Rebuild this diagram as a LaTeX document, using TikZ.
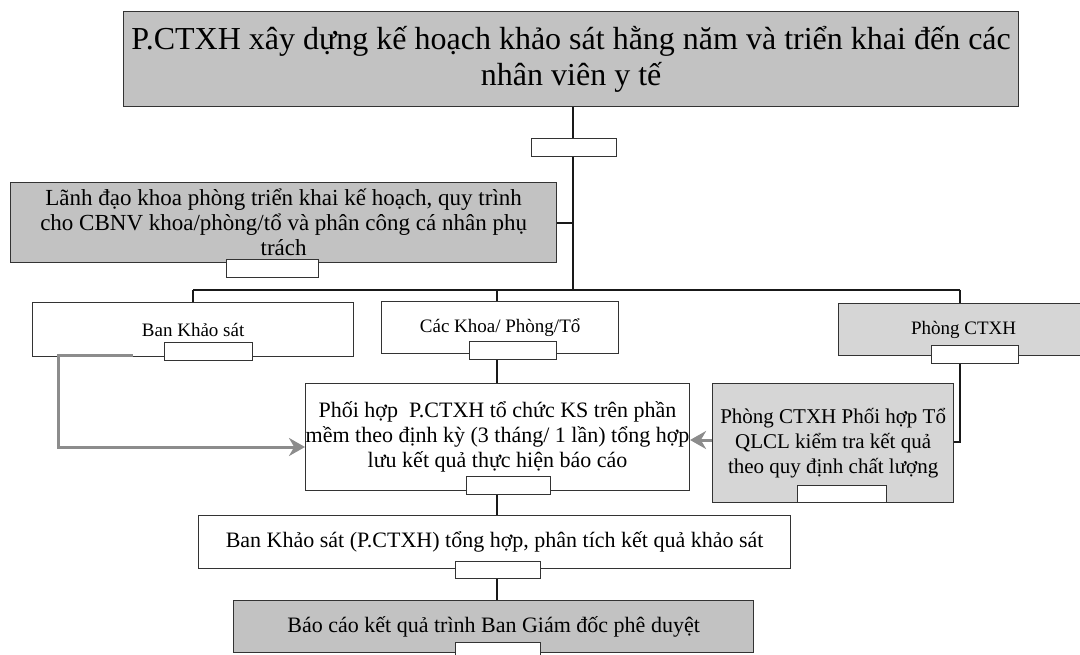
\documentclass[tikz,border=0pt]{standalone}
\usepackage{fontspec}
\setmainfont{Liberation Serif}
\usetikzlibrary{arrows.meta}
\pgfdeclarelayer{bg}
\pgfsetlayers{bg,main}
\begin{document}
\begin{tikzpicture}[x=1pt,y=-1pt,
  box/.style={draw=black!80, line width=1.3pt, anchor=north west, inner sep=0pt, align=center},
  graybox/.style={box, fill=black!24},
  lightbox/.style={box, fill=black!16},
  whitebox/.style={box, fill=white},
  tag/.style={draw=black!80, line width=1pt, fill=white, anchor=north west, inner sep=0pt},
  link/.style={line width=2pt, draw=black!90},
  grayarrow/.style={line width=3pt, draw=black!45, -{Stealth[length=16pt,width=18pt]}},
  big/.style={font=\fontsize{32}{36}\selectfont},
  mid/.style={font=\fontsize{22}{25}\selectfont},
  small/.style={font=\fontsize{19}{22}\selectfont}
]
\useasboundingbox (0,0) rectangle (1080,655);

% boxes
\node[graybox, big, minimum width=895pt, minimum height=95pt] (top) at (123,11)
  {P.CTXH xây dựng kế hoạch khảo sát hằng năm và triển khai đến các\\nhân viên y tế};
\node[tag, minimum width=85pt, minimum height=18pt] (t0) at (531,138) {};

\node[graybox, font=\fontsize{23}{25}\selectfont, minimum width=546pt, minimum height=80pt] (lead) at (10,182)
  {Lãnh đạo khoa phòng triển khai kế hoạch, quy trình\\cho CBNV khoa/phòng/tổ và phân công cá nhân phụ\\trách};
\node[tag, minimum width=92pt, minimum height=18pt] (t1) at (226,259) {};

\node[whitebox, small, minimum width=321pt, minimum height=54pt] (ban) at (32,302) {Ban Khảo sát};
\node[tag, minimum width=88pt, minimum height=18pt] (t2) at (164,342) {};

\node[whitebox, small, minimum width=237pt, minimum height=52pt] (khoa) at (381,301) {Các Khoa/ Phòng/Tổ};
\node[tag, minimum width=87pt, minimum height=18pt] (t3) at (469,341) {};

\node[lightbox, small, minimum width=250pt, minimum height=52pt] (phong) at (838,303) {Phòng CTXH};
\node[tag, minimum width=87pt, minimum height=18pt] (t4) at (931,345) {};

\node[whitebox, mid, minimum width=383pt, minimum height=107pt] (phoi) at (305,383)
  {Phối hợp\ \ P.CTXH tổ chức KS trên phần\\mềm theo định kỳ (3 tháng/ 1 lần) tổng hợp\\lưu kết quả thực hiện báo cáo};
\node[tag, minimum width=84pt, minimum height=18pt] (t5) at (466,476) {};

\node[lightbox, font=\fontsize{21}{25}\selectfont, minimum width=241pt, minimum height=119pt] (qlcl) at (712,383)
  {Phòng CTXH Phối hợp Tổ\\QLCL kiểm tra kết quả\\theo quy định chất lượng};
\node[tag, minimum width=89pt, minimum height=17pt] (t6) at (797,485) {};

\node[whitebox, mid, minimum width=592pt, minimum height=53pt] (sum) at (198,515)
  {Ban Khảo sát (P.CTXH) tổng hợp, phân tích kết quả khảo sát};
\node[tag, minimum width=85pt, minimum height=17pt] (t7) at (455,561) {};

\node[graybox, mid, minimum width=520pt, minimum height=52pt] (bao) at (233,600)
  {Báo cáo kết quả trình Ban Giám đốc phê duyệt};
\node[tag, minimum width=85pt, minimum height=16pt] (t8) at (455,642) {};

% junction coordinates
\coordinate (trunk) at (573,290);
\coordinate (hL) at (193,290);
\coordinate (hK) at (497,290);
\coordinate (hR) at (960,290);
\coordinate (rb) at (960,442);
\coordinate (gs) at (133,356);
\coordinate (gc) at (58,356);
\coordinate (gd) at (58,447);

\begin{pgfonlayer}{bg}
  \draw[link] (top.south -| trunk) -- (trunk);
  \draw[link] (lead.east) -- (lead.east -| trunk);
  \draw[link] (hL) -- (hR);
  \draw[link] (hL) -- (hL |- ban.north);
  \draw[link] (hK) -- (hK |- khoa.north);
  \draw[link] (hR) -- (hR |- phong.north);
  \draw[link] (t3.south -| hK) -- (hK |- phoi.north);
  \draw[link] (t4.south -| rb) -- (rb) -- (rb -| qlcl.east);
  \draw[link] (phoi.south -| hK) -- (hK |- sum.north);
  \draw[link] (sum.south -| hK) -- (hK |- bao.north);
\end{pgfonlayer}

\draw[grayarrow] (gs) -- (gc) -- (gd) -- (gd -| phoi.west);
\draw[grayarrow] (qlcl.west |- 0,440) -- (phoi.east |- 0,440);
\end{tikzpicture}
\end{document}
